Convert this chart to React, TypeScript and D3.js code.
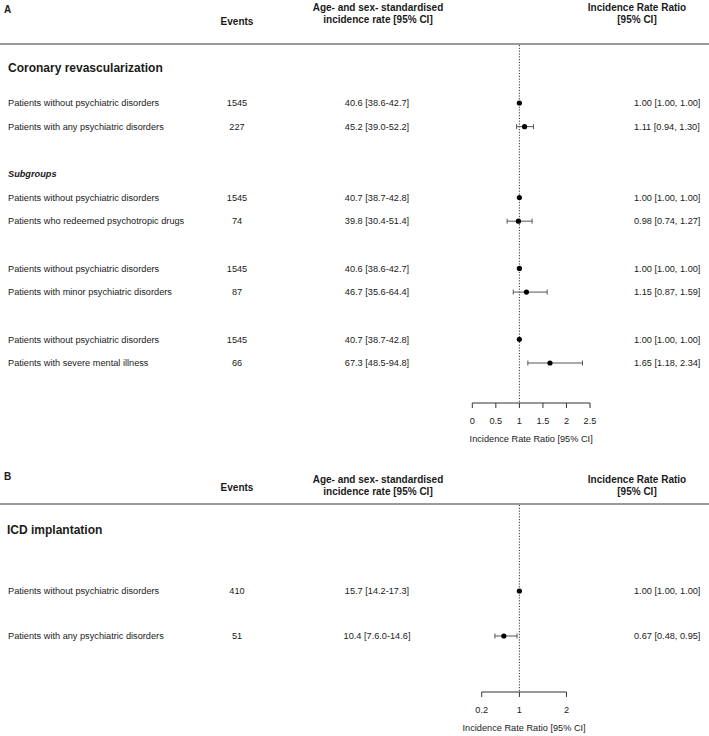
import React from "react";
import * as d3 from "d3";

// ---------- Data: panel A (Coronary revascularization) ----------
const aLabels = [
  "Patients without psychiatric disorders",
  "Patients with any psychiatric disorders",
  "Patients without psychiatric disorders",
  "Patients who redeemed psychotropic drugs",
  "Patients without psychiatric disorders",
  "Patients with minor psychiatric disorders",
  "Patients without psychiatric disorders",
  "Patients with severe mental illness",
];
const aEvents = ["1545", "227", "1545", "74", "1545", "87", "1545", "66"];
const aRates = [
  "40.6 [38.6-42.7]",
  "45.2 [39.0-52.2]",
  "40.7 [38.7-42.8]",
  "39.8 [30.4-51.4]",
  "40.6 [38.6-42.7]",
  "46.7 [35.6-64.4]",
  "40.7 [38.7-42.8]",
  "67.3 [48.5-94.8]",
];
const aIRR = [1.0, 1.11, 1.0, 0.98, 1.0, 1.15, 1.0, 1.65];
const aLo = [1.0, 0.94, 1.0, 0.74, 1.0, 0.87, 1.0, 1.18];
const aHi = [1.0, 1.3, 1.0, 1.27, 1.0, 1.59, 1.0, 2.34];
const aSlots = [0, 1, 4, 5, 7, 8, 10, 11];
const aTicks = [0, 0.5, 1, 1.5, 2, 2.5];

// ---------- Data: panel B (ICD implantation) ----------
const bLabels = [
  "Patients without psychiatric disorders",
  "Patients with any psychiatric disorders",
];
const bEvents = ["410", "51"];
const bRates = ["15.7 [14.2-17.3]", "10.4 [7.6.0-14.6]"];
const bIRR = [1.0, 0.67];
const bLo = [1.0, 0.48];
const bHi = [1.0, 0.95];
const bTicks = [0.2, 1, 2];

const FONT = "'Liberation Sans', Arial, Helvetica, sans-serif";
const TXT = "#1a1a1a";

const x = d3.scaleLinear().domain([0, 2.5]).range([472.3, 590]);
const yA = d3.scaleLinear().domain([0, 11]).range([103, 363]);
const yB = d3.scaleLinear().domain([0, 1]).range([591, 636]);

const fmt = (v: number) => v.toFixed(2);

function Header({ top, letter, letterY, eventsY }: { top: number; letter: string; letterY: number; eventsY: number }) {
  return (
    <g fontFamily={FONT} fill={TXT} fontWeight="bold" fontSize={10}>
      <text x={4} y={letterY} dy="0.35em">{letter}</text>
      <text x={237} y={eventsY} dy="0.35em" textAnchor="middle">Events</text>
      <text x={378} y={top} dy="0.35em" textAnchor="middle">Age- and sex- standardised</text>
      <text x={378} y={top + 12.5} dy="0.35em" textAnchor="middle">incidence rate [95% CI]</text>
      <text x={637} y={top} dy="0.35em" textAnchor="middle">Incidence Rate Ratio</text>
      <text x={637} y={top + 12.5} dy="0.35em" textAnchor="middle">[95% CI]</text>
    </g>
  );
}

function Row({
  y, label, events, rate, irr, lo, hi,
}: { y: number; label: string; events: string; rate: string; irr: number; lo: number; hi: number }) {
  return (
    <g fontFamily={FONT} fill={TXT} fontSize={9.2}>
      <text x={8} y={y} dy="0.35em">{label}</text>
      <text x={237} y={y} dy="0.35em" textAnchor="middle">{events}</text>
      <text x={377} y={y} dy="0.35em" textAnchor="middle">{rate}</text>
      <text x={634} y={y} dy="0.35em">{`${fmt(irr)} [${fmt(lo)}, ${fmt(hi)}]`}</text>
      {hi > lo && (
        <g stroke="#555" strokeWidth={1}>
          <line x1={x(lo)} x2={x(hi)} y1={y} y2={y} />
          <line x1={x(lo)} x2={x(lo)} y1={y - 2.5} y2={y + 2.5} />
          <line x1={x(hi)} x2={x(hi)} y1={y - 2.5} y2={y + 2.5} />
        </g>
      )}
      <circle cx={x(irr)} cy={y} r={2.6} fill="#000" />
    </g>
  );
}

function Axis({ y, ticks }: { y: number; ticks: number[] }) {
  const [t0, t1] = d3.extent(ticks) as [number, number];
  return (
    <g fontFamily={FONT} fill={TXT} fontSize={9.2}>
      <line x1={x(t0)} x2={x(t1)} y1={y} y2={y} stroke="#333" strokeWidth={1} />
      {ticks.map((t) => (
        <g key={t}>
          <line x1={x(t)} x2={x(t)} y1={y} y2={y + 5} stroke="#333" strokeWidth={1} />
          <text x={x(t)} y={y + 18} dy="0.35em" textAnchor="middle">{String(t)}</text>
        </g>
      ))}
      <text x={(x(t0) + x(t1)) / 2} y={y + 36} dy="0.35em" textAnchor="middle">
        Incidence Rate Ratio [95% CI]
      </text>
    </g>
  );
}

export default function App() {
  return (
    <svg
      width={709}
      height={736}
      style={{ position: "absolute", left: 0, top: 0, background: "#fff" }}
    >
      <rect x={0} y={0} width={709} height={736} fill="#fff" />

      {/* Panel A */}
      <Header top={7} letter="A" letterY={9} eventsY={21} />
      <line x1={0} x2={709} y1={44} y2={44} stroke="#9a9a9a" strokeWidth={2} />
      <line x1={x(1)} x2={x(1)} y1={45} y2={403} stroke="#000" strokeWidth={0.8} strokeDasharray="1.2,1.6" />
      <text x={8} y={68} dy="0.35em" fontFamily={FONT} fontWeight="bold" fontSize={12} fill={TXT}>
        Coronary revascularization
      </text>
      <text x={8} y={yA(3)} dy="0.35em" fontFamily={FONT} fontWeight="bold" fontStyle="italic" fontSize={9.2} fill={TXT}>
        Subgroups
      </text>
      {aLabels.map((lab, i) => (
        <Row key={"a" + i} y={yA(aSlots[i])} label={lab} events={aEvents[i]} rate={aRates[i]} irr={aIRR[i]} lo={aLo[i]} hi={aHi[i]} />
      ))}
      <Axis y={403} ticks={aTicks} />

      {/* Panel B */}
      <Header top={479} letter="B" letterY={476} eventsY={487} />
      <line x1={0} x2={709} y1={504} y2={504} stroke="#9a9a9a" strokeWidth={2} />
      <line x1={x(1)} x2={x(1)} y1={505} y2={692} stroke="#000" strokeWidth={0.8} strokeDasharray="1.2,1.6" />
      <text x={7} y={530} dy="0.35em" fontFamily={FONT} fontWeight="bold" fontSize={12} fill={TXT}>
        ICD implantation
      </text>
      {bLabels.map((lab, i) => (
        <Row key={"b" + i} y={yB(i)} label={lab} events={bEvents[i]} rate={bRates[i]} irr={bIRR[i]} lo={bLo[i]} hi={bHi[i]} />
      ))}
      <Axis y={692} ticks={bTicks} />
    </svg>
  );
}
